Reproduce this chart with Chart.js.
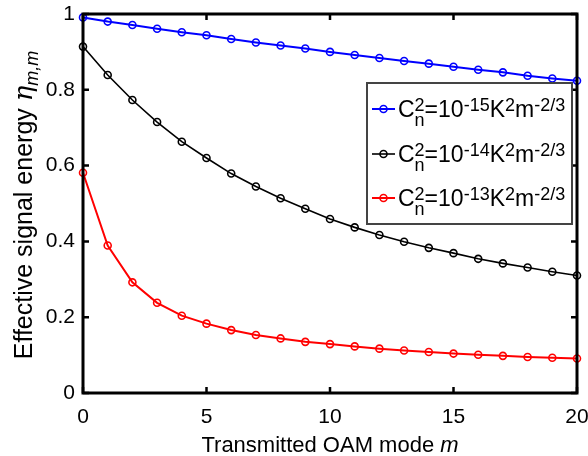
<!DOCTYPE html>
<html>
<head>
<meta charset="utf-8">
<script src="https://cdn.jsdelivr.net/npm/chart.js@4/dist/chart.umd.min.js"></script>
<style>
  html, body { margin: 0; padding: 0; background: #fff; }
  #wrap { width: 588px; height: 456px; }
</style>
</head>
<body>
<div id="wrap"><canvas id="chart"></canvas></div>
<script>
// OAM mode vs effective signal energy, three turbulence strengths

const modes = [0, 1, 2, 3, 4, 5, 6, 7, 8, 9, 10, 11, 12, 13, 14, 15, 16, 17, 18, 19, 20];
const weakTurb = [0.991, 0.980, 0.971, 0.961, 0.952, 0.944, 0.934, 0.925, 0.917, 0.909, 0.900,
                  0.892, 0.884, 0.876, 0.869, 0.861, 0.853, 0.846, 0.837, 0.830, 0.824];
const midTurb = [0.914, 0.839, 0.773, 0.715, 0.663, 0.620, 0.579, 0.545, 0.514, 0.486, 0.459,
                 0.437, 0.417, 0.399, 0.383, 0.369, 0.354, 0.342, 0.331, 0.320, 0.310];
const strongTurb = [0.581, 0.389, 0.292, 0.238, 0.204, 0.183, 0.166, 0.153, 0.144, 0.135, 0.129,
                    0.123, 0.117, 0.112, 0.108, 0.104, 0.101, 0.098, 0.095, 0.093, 0.091];
const exponents = ['-15', '-14', '-13'];
const colors = ['#0000ff', '#000000', '#ff0000'];
const xTicks = [0, 5, 10, 15, 20];
const yTicks = [0, 0.2, 0.4, 0.6, 0.8, 1];

const FONT = '"Liberation Sans", Arial, sans-serif';

function series(data, i) {
    return {
        label: 'Cn2=10' + exponents[i],
        data: data.map((v, k) => ({ x: modes[k], y: v })),
        borderColor: colors[i],
        backgroundColor: colors[i],
        borderWidth: i === 1 ? 1.6 : 2,
        pointRadius: 3.5,
        pointBorderWidth: 1.6,
        pointBackgroundColor: 'rgba(0,0,0,0)',
        pointBorderColor: colors[i],
        tension: 0,
        clip: false
    };
}

// box, inward ticks, axis titles and the MATLAB style legend
const decorations = {
    id: 'decorations',
    afterDatasetsDraw(chart) {
        const ctx = chart.ctx;
        const a = chart.chartArea;
        const xs = chart.scales.x, ys = chart.scales.y;
        ctx.save();
        ctx.strokeStyle = '#000';
        ctx.lineWidth = 3;
        ctx.strokeRect(a.left, a.top, a.right - a.left, a.bottom - a.top);
        ctx.lineWidth = 2.5;
        ctx.beginPath();
        xTicks.forEach(v => {
            const px = xs.getPixelForValue(v);
            ctx.moveTo(px, a.bottom); ctx.lineTo(px, a.bottom - 6);
            ctx.moveTo(px, a.top); ctx.lineTo(px, a.top + 6);
        });
        yTicks.forEach(v => {
            const py = ys.getPixelForValue(v);
            ctx.moveTo(a.left, py); ctx.lineTo(a.left + 6, py);
            ctx.moveTo(a.right, py); ctx.lineTo(a.right - 6, py);
        });
        ctx.stroke();

        // x title
        ctx.fillStyle = '#000';
        ctx.textBaseline = 'alphabetic';
        const xMain = 'Transmitted OAM mode ';
        ctx.font = '22px ' + FONT;
        const w1 = ctx.measureText(xMain).width;
        ctx.font = 'italic 22px ' + FONT;
        const w2 = ctx.measureText('m').width;
        let sx = (a.left + a.right) / 2 - (w1 + w2) / 2;
        ctx.font = '22px ' + FONT;
        ctx.fillText(xMain, sx, 452);
        ctx.font = 'italic 22px ' + FONT;
        ctx.fillText('m', sx + w1, 452);

        // y title, rotated
        ctx.save();
        ctx.translate(32, 205);
        ctx.rotate(-Math.PI / 2);
        const yMain = 'Effective signal energy ';
        ctx.font = '25px ' + FONT;
        const t1 = ctx.measureText(yMain).width;
        ctx.font = 'italic 26px "DejaVu Serif", serif';
        const t2 = ctx.measureText('\u03b7').width;
        ctx.font = 'italic 18px ' + FONT;
        const t3 = ctx.measureText('m,m').width;
        let ty = -(t1 + t2 + t3) / 2;
        ctx.font = '25px ' + FONT;
        ctx.fillText(yMain, ty, 0);
        ctx.font = 'italic 26px "DejaVu Serif", serif';
        ctx.fillText('\u03b7', ty + t1, 0);
        ctx.font = 'italic 18px ' + FONT;
        ctx.fillText('m,m', ty + t1 + t2, 6);
        ctx.restore();

        // legend
        const lx = 367, lyTop = 83, lw = 205, lh = 141;
        ctx.fillStyle = '#fff';
        ctx.fillRect(lx, lyTop, lw, lh);
        ctx.strokeStyle = '#444';
        ctx.lineWidth = 2;
        ctx.strokeRect(lx, lyTop, lw, lh);
        const rows = [109, 154, 198];
        const big = '23px ' + FONT, small = '18px ' + FONT;
        rows.forEach((ry, i) => {
            ctx.strokeStyle = colors[i];
            ctx.lineWidth = i === 1 ? 1.6 : 2;
            ctx.beginPath();
            ctx.moveTo(372, ry); ctx.lineTo(395, ry);
            ctx.stroke();
            ctx.lineWidth = 1.6;
            ctx.beginPath();
            ctx.arc(383.5, ry, 3.5, 0, Math.PI * 2);
            ctx.stroke();

            ctx.fillStyle = '#000';
            const base = ry + 8;
            let cx = 398;
            const put = (txt, font, dy) => {
                ctx.font = font;
                ctx.fillText(txt, cx, base + dy);
                return ctx.measureText(txt).width;
            };
            cx += put('C', big, 0);
            const wa = put('2', small, -6);
            const wb = put('n', small, 9);
            cx += Math.max(wa, wb);
            cx += put('=10', big, 0);
            cx += put(exponents[i], small, -6);
            cx += put('K', big, 0);
            cx += put('2', small, -6);
            cx += put('m', big, 0);
            cx += put('-2/3', small, -6);
        });
        ctx.restore();
    }
};

new Chart(document.getElementById('chart'), {
    type: 'line',
    data: {
        datasets: [series(weakTurb, 0), series(midTurb, 1), series(strongTurb, 2)]
    },
    options: {
        responsive: true,
        maintainAspectRatio: false,
        animation: false,
        layout: { padding: { top: 14, right: 11, left: 0, bottom: 0 } },
        plugins: {
            legend: { display: false },
            tooltip: { enabled: false }
        },
        scales: {
            x: {
                type: 'linear',
                min: 0,
                max: 20,
                afterBuildTicks: s => { s.ticks = xTicks.map(v => ({ value: v })); },
                afterFit: s => { s.height = 63; s.paddingLeft = 0; s.paddingRight = 0; },
                grid: { display: false, drawTicks: false },
                border: { display: false },
                ticks: {
                    color: '#000',
                    padding: 12,
                    maxRotation: 0,
                    font: { family: FONT, size: 21 },
                    callback: v => String(v)
                }
            },
            y: {
                min: 0,
                max: 1,
                afterBuildTicks: s => { s.ticks = yTicks.map(v => ({ value: v })); },
                afterFit: s => { s.width = 83; s.paddingTop = 0; s.paddingBottom = 0; },
                grid: { display: false, drawTicks: false },
                border: { display: false },
                ticks: {
                    color: '#000',
                    padding: 8,
                    font: { family: FONT, size: 21 },
                    callback: v => String(v)
                }
            }
        }
    },
    plugins: [decorations]
});
</script>
</body>
</html>
